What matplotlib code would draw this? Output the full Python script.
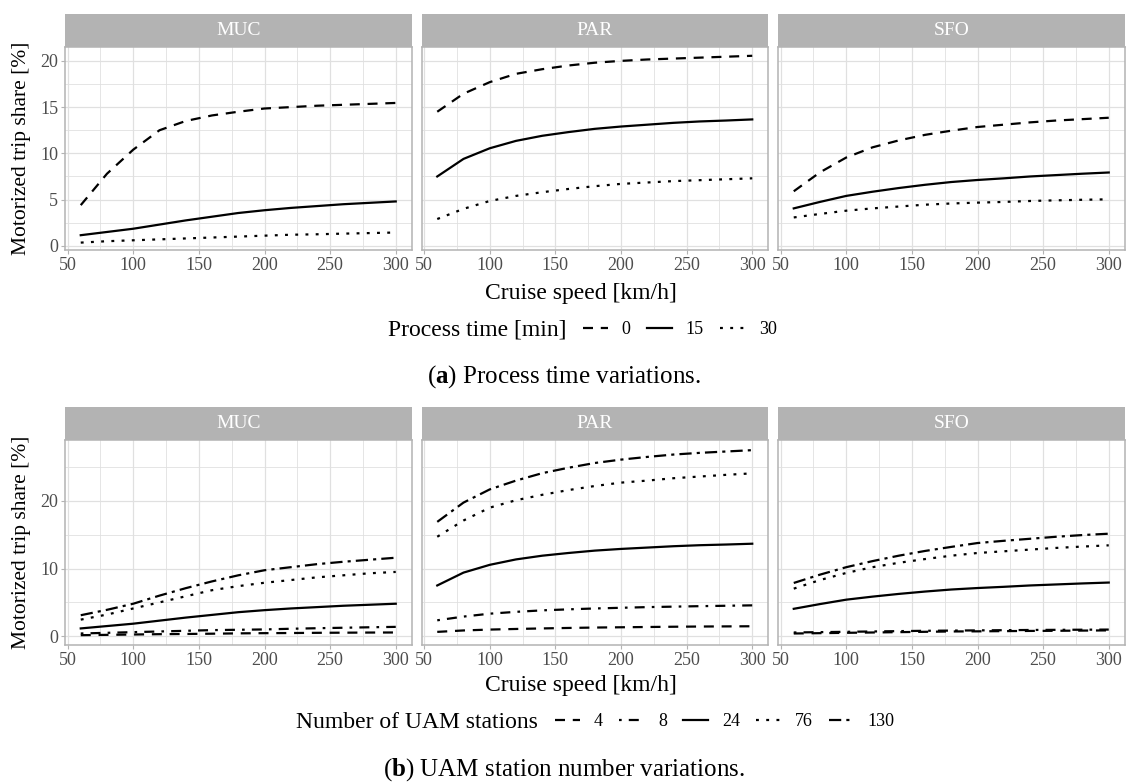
import matplotlib
matplotlib.use("Agg")
import matplotlib.pyplot as plt
from matplotlib.lines import Line2D

plt.rcParams['font.family'] = ['Liberation Serif', 'DejaVu Serif']
plt.rcParams['mathtext.fontset'] = 'custom'
plt.rcParams['mathtext.rm'] = 'Liberation Serif'
plt.rcParams['mathtext.bf'] = 'Liberation Serif:bold'

# data
speed = [60, 80, 100, 120, 140, 160, 180, 200, 220, 240, 260, 280, 300]
cities = ["MUC", "PAR", "SFO"]

# (a) process time [min]
pt0 = {
    "MUC": [4.4, 7.8, 10.4, 12.5, 13.5, 14.1, 14.5, 14.85, 15.0, 15.15, 15.25, 15.35, 15.45],
    "PAR": [14.5, 16.45, 17.7, 18.6, 19.1, 19.5, 19.8, 20.0, 20.15, 20.25, 20.35, 20.45, 20.55],
    "SFO": [5.9, 7.95, 9.55, 10.65, 11.4, 12.0, 12.45, 12.85, 13.1, 13.35, 13.55, 13.7, 13.85],
}
pt15 = {
    "MUC": [1.15, 1.5, 1.85, 2.3, 2.75, 3.15, 3.55, 3.85, 4.1, 4.3, 4.5, 4.65, 4.8],
    "PAR": [7.5, 9.4, 10.55, 11.35, 11.9, 12.3, 12.65, 12.9, 13.1, 13.3, 13.45, 13.55, 13.67],
    "SFO": [4.05, 4.75, 5.4, 5.85, 6.25, 6.6, 6.9, 7.12, 7.3, 7.5, 7.65, 7.8, 7.93],
}
pt30 = {
    "MUC": [0.35, 0.5, 0.6, 0.7, 0.8, 0.9, 1.0, 1.1, 1.2, 1.25, 1.32, 1.38, 1.44],
    "PAR": [2.9, 4.0, 4.85, 5.4, 5.8, 6.15, 6.45, 6.7, 6.85, 7.0, 7.1, 7.2, 7.3],
    "SFO": [3.07, 3.45, 3.8, 4.05, 4.25, 4.45, 4.58, 4.67, 4.75, 4.85, 4.92, 4.98, 5.03],
}

# (b) number of UAM stations (24 stations = the 15 min curve above)
st4 = {
    "MUC": [0.15, 0.2, 0.25, 0.3, 0.33, 0.37, 0.42, 0.45, 0.47, 0.5, 0.52, 0.54, 0.55],
    "PAR": [0.64, 0.85, 0.98, 1.07, 1.15, 1.22, 1.28, 1.32, 1.36, 1.4, 1.43, 1.45, 1.47],
    "SFO": [0.4, 0.45, 0.5, 0.55, 0.6, 0.65, 0.7, 0.72, 0.75, 0.78, 0.8, 0.83, 0.86],
}
st8 = {
    "MUC": [0.4, 0.5, 0.6, 0.7, 0.8, 0.9, 0.95, 1.0, 1.1, 1.18, 1.25, 1.32, 1.38],
    "PAR": [2.35, 2.9, 3.33, 3.6, 3.82, 3.97, 4.1, 4.2, 4.3, 4.37, 4.44, 4.5, 4.56],
    "SFO": [0.55, 0.6, 0.65, 0.7, 0.75, 0.8, 0.83, 0.86, 0.89, 0.92, 0.94, 0.96, 0.98],
}
st24 = pt15
st76 = {
    "MUC": [2.45, 3.2, 4.1, 5.0, 5.9, 6.8, 7.4, 7.9, 8.3, 8.7, 9.0, 9.3, 9.5],
    "PAR": [14.7, 17.1, 19.0, 20.1, 20.9, 21.6, 22.2, 22.7, 23.0, 23.35, 23.6, 23.85, 24.07],
    "SFO": [7.03, 8.3, 9.35, 10.2, 10.85, 11.4, 11.9, 12.3, 12.55, 12.8, 13.05, 13.25, 13.43],
}
st130 = {
    "MUC": [3.1, 3.9, 4.8, 6.0, 7.1, 8.1, 9.0, 9.75, 10.2, 10.65, 11.0, 11.3, 11.6],
    "PAR": [16.9, 19.75, 21.7, 23.0, 24.1, 24.9, 25.6, 26.1, 26.5, 26.85, 27.1, 27.3, 27.5],
    "SFO": [7.87, 9.1, 10.2, 11.1, 11.9, 12.6, 13.2, 13.77, 14.1, 14.4, 14.7, 14.95, 15.15],
}

DASHED = (0, (4.5, 3.5))
DOTTED = (0, (1.3, 3.3))
DOTDASH = (0, (1.2, 3.2, 4.5, 3.2))
TWODASH = (0, (5.5, 2.3, 1.4, 2.3))
SOLID = '-'

rows = [
    dict(series=[pt0, pt15, pt30], labels=["0", "15", "30"],
         styles=[DASHED, SOLID, DOTTED], title="Process time [min]",
         caption=r"($\mathbf{a}$) Process time variations.",
         strip=(14, 47), axes=(47, 250), ylim=(-0.45, 21.5),
         yt=[0, 5, 10, 15, 20], ym=[2.5, 7.5, 12.5, 17.5],
         xtitle_y=293, leg_y=330, title_r=567, leg_l=583, cap_y=377),
    dict(series=[st4, st8, st24, st76, st130], labels=["4", "8", "24", "76", "130"],
         styles=[DASHED, DOTDASH, SOLID, DOTTED, TWODASH], title="Number of UAM stations",
         caption=r"($\mathbf{b}$) UAM station number variations.",
         strip=(407, 440), axes=(440, 645), ylim=(-1.3, 29.0),
         yt=[0, 10, 20], ym=[5, 15, 25],
         xtitle_y=685, leg_y=722, title_r=538, leg_l=555, cap_y=770),
]

W, H = 1129, 783
fig = plt.figure(figsize=(W / 100, H / 100), dpi=100)
panel_left = [65, 421.5, 778]
panel_w = 346.5
GRIDC = '#e0e0e0'
BORDER = '#b3b3b3'
LW = 1.6

for r in rows:
    for j, city in enumerate(cities):
        x0 = panel_left[j]
        ax = fig.add_axes([x0 / W, 1 - r['axes'][1] / H, panel_w / W,
                           (r['axes'][1] - r['axes'][0]) / H])
        for s, st in zip(r['series'], r['styles']):
            ax.plot(speed, s[city], color='black', lw=LW, linestyle=st)
        ax.set_xlim(48, 312)
        ax.set_ylim(*r['ylim'])
        ax.set_xticks([50, 100, 150, 200, 250, 300])
        ax.set_xticks([75, 125, 175, 225, 275], minor=True)
        ax.set_yticks(r['yt'])
        ax.set_yticks(r['ym'], minor=True)
        ax.grid(True, which='major', color=GRIDC, lw=0.9)
        ax.grid(True, which='minor', color=GRIDC, lw=0.6)
        ax.set_axisbelow(True)
        for sp in ax.spines.values():
            sp.set_color(BORDER)
            sp.set_linewidth(1.1)
        ax.tick_params(which='both', colors=BORDER, labelcolor='#4d4d4d',
                       labelsize=13, length=3, width=0.8, pad=2)
        ax.tick_params(which='minor', length=0)
        if j == 0:
            ax.set_ylabel("Motorized trip share [%]", fontsize=15.5)
            ax.yaxis.set_label_coords(-(65 - 31) / panel_w, 0.5)
        else:
            ax.tick_params(axis='y', which='both', left=False, labelleft=False)
        # facet strip
        sa = fig.add_axes([x0 / W, 1 - r['strip'][1] / H, panel_w / W,
                           (r['strip'][1] - r['strip'][0]) / H])
        sa.set_facecolor(BORDER)
        sa.set_xticks([])
        sa.set_yticks([])
        for sp in sa.spines.values():
            sp.set_visible(False)
        sa.text(0.5, 0.5, city, color='white', fontsize=14,
                ha='center', va='center', transform=sa.transAxes)

    fig.text(581 / W, 1 - r['xtitle_y'] / H, "Cruise speed [km/h]", fontsize=17,
             ha='center', va='center')
    fig.text(r['title_r'] / W, 1 - r['leg_y'] / H, r['title'], fontsize=17,
             ha='right', va='center')
    handles = [Line2D([], [], color='black', lw=LW, linestyle=st) for st in r['styles']]
    fig.legend(handles, r['labels'], loc='center left',
               bbox_to_anchor=(r['leg_l'] / W, 1 - r['leg_y'] / H),
               ncol=len(handles), frameon=False, fontsize=13,
               handlelength=1.4, handletextpad=0.75, columnspacing=0.9,
               borderpad=0, borderaxespad=0)
    fig.text(564 / W, 1 - r['cap_y'] / H, r['caption'], fontsize=18,
             ha='center', va='center')

fig.savefig("out.png", dpi=100)
